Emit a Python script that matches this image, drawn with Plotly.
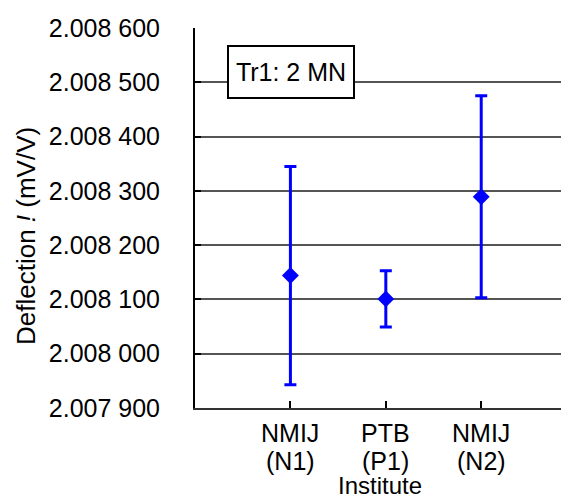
import plotly.graph_objects as go

cat_line1 = ["NMIJ", "PTB", "NMIJ"]
cat_line2 = ["(N1)", "(P1)", "(N2)"]
x_pos = [1, 2, 3]
values = [2.008144, 2.008101, 2.008289]
uncert = [0.000201, 0.000052, 0.000186]
y_ticks = [2.0079, 2.0080, 2.0081, 2.0082, 2.0083, 2.0084, 2.0085, 2.0086]
y_tick_labels = ["2.007 900", "2.008 000", "2.008 100", "2.008 200",
                 "2.008 300", "2.008 400", "2.008 500", "2.008 600"]

FONT = "Liberation Sans, Arial, sans-serif"
BLUE = "#0000FF"

# page body has an 8px margin; plot area is placed at screen x 195..569, y 28..408
OFF = 8
PL, PT, PW, PH = 195, 28, 374, 380

def px(xs):
    return (xs - PL) / PW

def py(ys):
    return (PT + PH - ys) / PH

fig = go.Figure()
fig.add_trace(go.Scatter(
    x=x_pos, y=values, mode="markers",
    marker=dict(symbol="diamond", size=13, color=BLUE),
    error_y=dict(type="data", array=uncert, visible=True,
                 color=BLUE, thickness=3, width=6),
    showlegend=False,
))

annotations = []
for xp, l1, l2 in zip(x_pos, cat_line1, cat_line2):
    annotations.append(dict(text=l1, xref="x", yref="paper", x=xp, y=py(433),
                            xanchor="center", yanchor="middle", showarrow=False,
                            font=dict(size=25, family=FONT)))
    annotations.append(dict(text=l2, xref="x", yref="paper", x=xp, y=py(461),
                            xanchor="center", yanchor="middle", showarrow=False,
                            font=dict(size=25, family=FONT)))

annotations += [
    dict(text="Tr1: 2 MN", xref="paper", yref="paper", x=px(291), y=py(72),
         xanchor="center", yanchor="middle", showarrow=False,
         font=dict(size=25, family=FONT), bgcolor="white",
         bordercolor="black", borderwidth=2, borderpad=4, width=116, height=42),
    dict(text="Deflection <i>!</i> (mV/V)", xref="paper", yref="paper",
         x=px(26), y=py(236), xanchor="center", yanchor="middle",
         textangle=-90, showarrow=False, font=dict(size=26, family=FONT)),
    dict(text="Institute", xref="paper", yref="paper",
         x=px(380), y=py(485), xanchor="center", yanchor="middle",
         showarrow=False, font=dict(size=24, family=FONT)),
]

fig.update_layout(
    width=569 - OFF, height=497 - OFF,
    margin=dict(l=PL - OFF, r=(569 - OFF) - (PL - OFF) - PW, t=PT - OFF,
                b=(497 - OFF) - (PT - OFF) - PH),
    paper_bgcolor="white", plot_bgcolor="white",
    font=dict(family=FONT, size=25, color="black"),
    xaxis=dict(
        range=[0, 3.92], tickmode="array", tickvals=x_pos,
        ticks="inside", ticklen=7, tickwidth=2, tickcolor="black",
        showline=True, linecolor="#333", linewidth=2,
        showgrid=False, zeroline=False, showticklabels=False,
    ),
    yaxis=dict(
        range=[2.0079, 2.0086], tickmode="array", tickvals=y_ticks, ticktext=y_tick_labels,
        ticks="inside", ticklen=6, tickwidth=2, tickcolor="black",
        showline=True, linecolor="black", linewidth=2,
        showgrid=True, gridcolor="#555555", gridwidth=2, zeroline=False,
        tickfont=dict(size=25, family=FONT),
        ticklabelstandoff=28,
    ),
    annotations=annotations,
)

fig.write_html("out.html")
